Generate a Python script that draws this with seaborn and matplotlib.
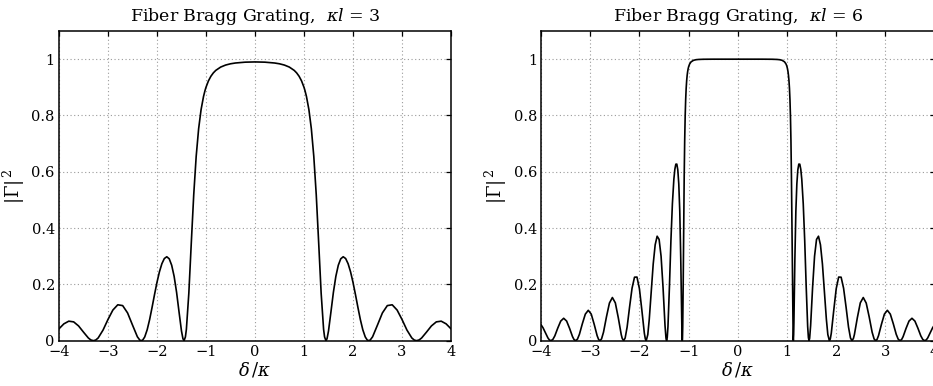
import matplotlib
matplotlib.use("Agg")
import matplotlib.pyplot as plt
import seaborn as sns
import pandas as pd

# ---- data (kl = 3) ----
delta_a_neg = [-4.0, -3.9, -3.8, -3.7, -3.6, -3.5, -3.4, -3.35, -3.297, -3.25, -3.2, -3.1, -3.0, -2.9, -2.8,
               -2.7, -2.6, -2.5, -2.4, -2.35, -2.321, -2.29, -2.25, -2.2, -2.15, -2.1, -2.05, -2.0, -1.95, -1.9,
               -1.85, -1.8, -1.75, -1.7, -1.65, -1.6, -1.55, -1.5, -1.47, -1.448, -1.42, -1.4, -1.35, -1.3, -1.25,
               -1.2, -1.15, -1.1, -1.05, -1.02, -1.0, -0.95, -0.9, -0.85, -0.8, -0.7, -0.6, -0.5, -0.4, -0.2]
refl_a_neg = [0.0421, 0.0598, 0.0693, 0.0668, 0.0524, 0.0305, 0.0095, 0.0027, 0.0, 0.0023, 0.0097, 0.0379, 0.0753,
              0.1088, 0.1275, 0.1246, 0.0986, 0.0558, 0.0139, 0.0021, 0.0, 0.0025, 0.0133, 0.0388, 0.0751, 0.1184,
              0.1639, 0.2071, 0.2446, 0.2734, 0.2918, 0.2981, 0.2908, 0.2680, 0.2285, 0.1719, 0.1023, 0.0344,
              0.0070, 0.0, 0.0132, 0.0403, 0.1687, 0.3465, 0.5184, 0.6547, 0.7529, 0.8208, 0.8676, 0.8884, 0.9000,
              0.9228, 0.9392, 0.9512, 0.9601, 0.9719, 0.9790, 0.9835, 0.9863, 0.9893]
delta_a_pos = [0.0, 0.2, 0.4, 0.5, 0.6, 0.7, 0.8, 0.85, 0.9, 0.95, 1.0, 1.02, 1.05, 1.1, 1.15, 1.2, 1.25, 1.3,
               1.35, 1.4, 1.42, 1.448, 1.47, 1.5, 1.55, 1.6, 1.65, 1.7, 1.75, 1.8, 1.85, 1.9, 1.95, 2.0, 2.05, 2.1,
               2.15, 2.2, 2.25, 2.29, 2.321, 2.35, 2.4, 2.5, 2.6, 2.7, 2.8, 2.9, 3.0, 3.1, 3.2, 3.25, 3.297, 3.35,
               3.4, 3.5, 3.6, 3.7, 3.8, 3.9, 4.0]
refl_a_pos = [0.9901, 0.9893, 0.9863, 0.9835, 0.9790, 0.9719, 0.9601, 0.9512, 0.9392, 0.9228, 0.9000, 0.8884,
              0.8676, 0.8208, 0.7529, 0.6547, 0.5184, 0.3465, 0.1687, 0.0403, 0.0132, 0.0, 0.0070, 0.0344, 0.1023,
              0.1719, 0.2285, 0.2680, 0.2908, 0.2981, 0.2918, 0.2734, 0.2446, 0.2071, 0.1639, 0.1184, 0.0751,
              0.0388, 0.0133, 0.0025, 0.0, 0.0021, 0.0139, 0.0558, 0.0986, 0.1246, 0.1275, 0.1088, 0.0753, 0.0379,
              0.0097, 0.0023, 0.0, 0.0027, 0.0095, 0.0305, 0.0524, 0.0668, 0.0693, 0.0598, 0.0421]

# ---- data (kl = 6) ----
delta_b_neg = [-4.0, -3.96, -3.92, -3.86, -3.83, -3.799, -3.76, -3.72, -3.66, -3.6, -3.54, -3.48, -3.42, -3.36,
               -3.33, -3.297, -3.26, -3.22, -3.16, -3.1, -3.04, -2.98, -2.92, -2.86, -2.83, -2.802, -2.77, -2.73,
               -2.67, -2.61, -2.55, -2.49, -2.43, -2.37, -2.35, -2.321, -2.29, -2.25, -2.2, -2.15, -2.1, -2.05,
               -2.0, -1.95, -1.9, -1.88, -1.862, -1.83, -1.8, -1.76, -1.72, -1.68, -1.64, -1.6, -1.56, -1.52,
               -1.48, -1.46, -1.448, -1.435, -1.42, -1.39, -1.36, -1.33, -1.3, -1.28, -1.26, -1.24, -1.22, -1.2,
               -1.18, -1.16, -1.15, -1.14, -1.135, -1.129, -1.125, -1.12, -1.11, -1.1, -1.09, -1.08, -1.07, -1.06,
               -1.05, -1.04, -1.03, -1.02, -1.01, -1.0, -0.99, -0.98, -0.95, -0.9, -0.85, -0.8, -0.7, -0.5]
refl_b_neg = [0.0565, 0.0459, 0.0314, 0.0097, 0.0027, 0.0, 0.0044, 0.0171, 0.0448, 0.0696, 0.0796, 0.0697,
              0.0437, 0.0143, 0.0042, 0.0, 0.0055, 0.0227, 0.0605, 0.0943, 0.1079, 0.0945, 0.0584, 0.0178, 0.0044,
              0.0, 0.0064, 0.0304, 0.0849, 0.1336, 0.1533, 0.1344, 0.0817, 0.0217, 0.0081, 0.0, 0.0097, 0.0486,
              0.1200, 0.1865, 0.2255, 0.2260, 0.1844, 0.1074, 0.0263, 0.0063, 0.0, 0.0215, 0.0764, 0.1766, 0.2724,
              0.3405, 0.3711, 0.3596, 0.3001, 0.1889, 0.0538, 0.0086, 0.0, 0.0109, 0.0503, 0.1923, 0.3549, 0.4862,
              0.5736, 0.6088, 0.6269, 0.6272, 0.6067, 0.5569, 0.4603, 0.2905, 0.1762, 0.0631, 0.0215, 0.0, 0.0090,
              0.0494, 0.2099, 0.4101, 0.5837, 0.7109, 0.7979, 0.8563, 0.8960, 0.9231, 0.9422, 0.9558, 0.9657,
              0.9730, 0.9785, 0.9827, 0.9904, 0.9959, 0.9980, 0.9989, 0.9996, 0.9999]
delta_b_pos = [0.0, 0.5, 0.7, 0.8, 0.85, 0.9, 0.95, 0.98, 0.99, 1.0, 1.01, 1.02, 1.03, 1.04, 1.05, 1.06, 1.07,
               1.08, 1.09, 1.1, 1.11, 1.12, 1.125, 1.129, 1.135, 1.14, 1.15, 1.16, 1.18, 1.2, 1.22, 1.24, 1.26,
               1.28, 1.3, 1.33, 1.36, 1.39, 1.42, 1.435, 1.448, 1.46, 1.48, 1.52, 1.56, 1.6, 1.64, 1.68, 1.72,
               1.76, 1.8, 1.83, 1.862, 1.88, 1.9, 1.95, 2.0, 2.05, 2.1, 2.15, 2.2, 2.25, 2.29, 2.321, 2.35, 2.37,
               2.43, 2.49, 2.55, 2.61, 2.67, 2.73, 2.77, 2.802, 2.83, 2.86, 2.92, 2.98, 3.04, 3.1, 3.16, 3.22,
               3.26, 3.297, 3.33, 3.36, 3.42, 3.48, 3.54, 3.6, 3.66, 3.72, 3.76, 3.799, 3.83, 3.86, 3.92, 3.96, 4.0]
refl_b_pos = [1.0000, 0.9999, 0.9996, 0.9989, 0.9980, 0.9959, 0.9904, 0.9827, 0.9785, 0.9730, 0.9657, 0.9558,
              0.9422, 0.9231, 0.8960, 0.8563, 0.7979, 0.7109, 0.5837, 0.4101, 0.2099, 0.0494, 0.0090, 0.0, 0.0215,
              0.0631, 0.1762, 0.2905, 0.4603, 0.5569, 0.6067, 0.6272, 0.6269, 0.6088, 0.5736, 0.4862, 0.3549,
              0.1923, 0.0503, 0.0109, 0.0, 0.0086, 0.0538, 0.1889, 0.3001, 0.3596, 0.3711, 0.3405, 0.2724, 0.1766,
              0.0764, 0.0215, 0.0, 0.0063, 0.0263, 0.1074, 0.1844, 0.2260, 0.2255, 0.1865, 0.1200, 0.0486, 0.0097,
              0.0, 0.0081, 0.0217, 0.0817, 0.1344, 0.1533, 0.1336, 0.0849, 0.0304, 0.0064, 0.0, 0.0044, 0.0178,
              0.0584, 0.0945, 0.1079, 0.0943, 0.0605, 0.0227, 0.0055, 0.0, 0.0042, 0.0143, 0.0437, 0.0697, 0.0796,
              0.0696, 0.0448, 0.0171, 0.0044, 0.0, 0.0027, 0.0097, 0.0314, 0.0459, 0.0565]

titles = ["Fiber Bragg Grating,  $\\kappa l$ = 3", "Fiber Bragg Grating,  $\\kappa l$ = 6"]
xticks = [-4, -3, -2, -1, 0, 1, 2, 3, 4]
yticks = [0, 0.2, 0.4, 0.6, 0.8, 1]
ytick_labels = ["0", "0.2", "0.4", "0.6", "0.8", "1"]

sns.set_theme(style="white")
plt.rcParams["font.family"] = ["DejaVu Serif"]
plt.rcParams["mathtext.fontset"] = "custom"
plt.rcParams["mathtext.rm"] = "DejaVu Serif"
plt.rcParams["mathtext.it"] = "DejaVu Serif:italic"
plt.rcParams["mathtext.bf"] = "DejaVu Serif:bold"
plt.rcParams["axes.unicode_minus"] = True
plt.rcParams["text.color"] = "black"
plt.rcParams["axes.labelcolor"] = "black"

fig = plt.figure(figsize=(9.33, 3.86), dpi=100)
ax1 = fig.add_axes([0.0632, 0.1174, 0.4202, 0.8023])
ax2 = fig.add_axes([0.5799, 0.1174, 0.4218, 0.8023])

panels = [
    (ax1, delta_a_neg + delta_a_pos, refl_a_neg + refl_a_pos, titles[0]),
    (ax2, delta_b_neg + delta_b_pos, refl_b_neg + refl_b_pos, titles[1]),
]

for ax, xs, ys, title in panels:
    df = pd.DataFrame({"delta": xs, "R": ys})
    sns.lineplot(data=df, x="delta", y="R", ax=ax, color="black", linewidth=1.2,
                 estimator=None, sort=False)
    ax.set_xlim(-4, 4)
    ax.set_ylim(0, 1.1)
    ax.set_xticks(xticks)
    ax.set_xticklabels([str(t).replace("-", "\u2212") for t in xticks])
    ax.set_yticks(yticks)
    ax.set_yticklabels(ytick_labels)
    ax.grid(True, linestyle=(0, (1, 2.3)), color="#9a9a9a", linewidth=0.8)
    ax.tick_params(direction="in", length=3.5, width=0.9, top=True, right=True,
                   labelsize=10.5, colors="black", pad=3)
    for sp in ax.spines.values():
        sp.set_visible(True)
        sp.set_color("black")
        sp.set_linewidth(1.1)
    ax.set_title(title, fontsize=12.5, pad=7, color="black")
    ax.set_xlabel("$\\delta\\,/\\kappa$", fontsize=13, labelpad=1)
    ax.set_ylabel("$|\\mathit{\\Gamma}|^{\\,2}$", fontsize=13, labelpad=3)

fig.savefig("out.png", dpi=100)
